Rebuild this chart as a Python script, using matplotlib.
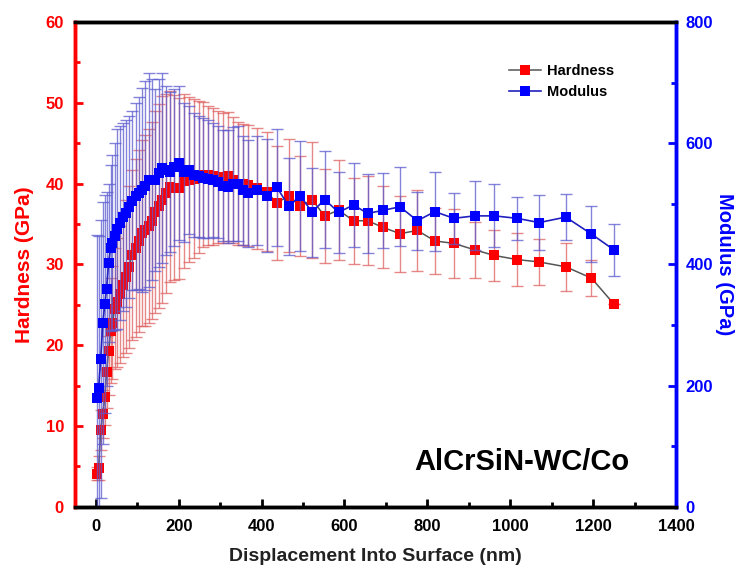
import matplotlib
matplotlib.use("Agg")
import matplotlib.pyplot as plt
from matplotlib.ticker import MultipleLocator
from matplotlib.lines import Line2D

plt.rcParams["font.family"] = ["Liberation Sans", "DejaVu Sans"]
plt.rcParams["font.weight"] = "bold"

# displacement (nm)
depth = [4, 7, 12, 17, 22, 26, 31, 36, 40, 46, 52, 58, 65, 72, 80, 88, 96, 104, 112, 120,
         128, 136, 144, 152, 160, 170, 180, 190, 200, 212, 224, 236, 248, 260, 272, 284,
         296, 308, 320, 332, 344, 356, 368, 388, 412, 437, 466, 494, 522, 552, 586, 622,
         656, 692, 734, 776, 818, 864, 914, 962, 1016, 1070, 1134, 1196, 1250]

hardness = [4.1, 4.8, 9.5, 11.5, 13.6, 16.7, 19.3, 21.8, 22.8, 24.5, 25.3, 26.3, 27.5, 28.5,
            29.7, 31.2, 32.0, 32.9, 33.9, 34.2, 34.8, 35.4, 36.5, 37.2, 38.0, 38.8, 39.6,
            39.5, 39.4, 40.3, 40.5, 40.6, 40.8, 41.1, 41.0, 40.9, 40.8, 40.7, 40.9, 40.4,
            40.0, 39.9, 39.8, 39.4, 39.0, 37.6, 38.5, 37.2, 38.0, 36.0, 36.7, 35.4, 35.4,
            34.6, 33.8, 34.2, 32.9, 32.6, 31.8, 31.1, 30.6, 30.3, 29.7, 28.3, 25.1]

hardness_err = [0.8, 1.5, 2.5, 3.0, 3.5, 4.5, 5.5, 6.5, 7.0, 7.5, 8.0, 8.5, 9.0, 9.5, 10.0,
                10.5, 11.0, 11.3, 11.5, 11.8, 12.0, 12.2, 12.5, 12.6, 12.8, 12.3, 11.8, 11.4,
                11.2, 10.8, 10.2, 9.8, 9.4, 9.0, 8.6, 8.5, 8.2, 8.0, 8.0, 7.8, 7.6, 7.5, 7.5,
                7.5, 7.4, 7.0, 7.0, 6.2, 7.2, 5.8, 6.2, 5.3, 5.5, 5.1, 4.7, 5.0, 4.1, 4.3,
                3.5, 3.1, 3.3, 2.8, 2.95, 2.2, 0.0]

modulus = [179, 196, 244, 303, 335, 359, 402, 427, 436, 446, 458, 468, 478, 484, 495, 505,
           512, 518, 523, 530, 539, 540, 539, 550, 559, 555, 553, 560, 567, 552, 556, 547,
           545, 542, 541, 539, 536, 530, 528, 532, 533, 522, 517, 522, 513, 527, 496, 513,
           486, 507, 486, 498, 484, 489, 495, 472, 487, 476, 480, 480, 476, 469, 478, 450,
           424]

modulus_err = [270, 250, 230, 200, 180, 160, 130, 137, 145, 155, 165, 160, 155, 154, 150,
               148, 155, 158, 168, 172, 176, 165, 150, 155, 157, 140, 132, 130, 127, 115,
               106, 102, 100, 99, 97, 94, 92, 92, 93, 94, 95, 90, 88, 90, 93, 96, 80, 91,
               73, 80, 67, 70, 65, 62, 65, 48, 65, 42, 57, 52, 35, 45, 38, 46, 43]

fig = plt.figure(figsize=(7.47, 5.76), dpi=100)
ax = fig.add_axes([0.1004, 0.12, 0.8046, 0.842])
ax2 = ax.twinx()

# hardness
ax.errorbar(depth, hardness, yerr=hardness_err, fmt="none", ecolor="#e06060",
            elinewidth=1.0, capsize=4.5, capthick=1.0, alpha=0.75, zorder=2)
ax.plot(depth, hardness, color="#555555", linewidth=1.1, zorder=3)
ax.plot(depth, hardness, "s", color="red", markersize=7, markeredgewidth=0, zorder=4)

# modulus
ax2.errorbar(depth, modulus, yerr=modulus_err, fmt="none", ecolor="#5a5ad0",
             elinewidth=1.0, capsize=4.5, capthick=1.0, alpha=0.75, zorder=2)
ax2.plot(depth, modulus, color="#2020c0", linewidth=1.2, zorder=3)
ax2.plot(depth, modulus, "s", color="blue", markersize=7, markeredgewidth=0, zorder=4)

ax.set_xlim(-50, 1400)
ax.set_ylim(0, 60)
ax2.set_ylim(0, 800)

ax.xaxis.set_major_locator(MultipleLocator(200))
ax.xaxis.set_minor_locator(MultipleLocator(100))
ax.yaxis.set_major_locator(MultipleLocator(10))
ax.yaxis.set_minor_locator(MultipleLocator(5))
ax2.yaxis.set_major_locator(MultipleLocator(200))
ax2.yaxis.set_minor_locator(MultipleLocator(100))

ax.tick_params(axis="x", direction="in", length=6, width=2, labelsize=12, pad=9,
               colors="black", top=False)
ax.tick_params(axis="x", which="minor", direction="in", length=3.5, width=2, top=False)
ax.tick_params(axis="y", direction="in", length=6, width=2, labelsize=12, pad=8,
               colors="red")
ax.tick_params(axis="y", which="minor", direction="in", length=3.5, width=2, colors="red")
ax2.tick_params(axis="y", direction="in", length=6, width=2, labelsize=12, pad=7,
                colors="blue")
ax2.tick_params(axis="y", which="minor", direction="in", length=3.5, width=2, colors="blue")

for a in (ax, ax2):
    for lab in a.get_xticklabels() + a.get_yticklabels():
        lab.set_fontweight("bold")
    for side in ("top", "bottom", "left", "right"):
        a.spines[side].set_linewidth(2.5)
    a.spines["left"].set_color("red")
    a.spines["right"].set_color("blue")

ax.set_xlabel("Displacement Into Surface (nm)", fontsize=14, fontweight="bold",
              color="#222222", labelpad=10)
ax.set_ylabel("Hardness (GPa)", fontsize=15, fontweight="bold", color="red", labelpad=8)
ax2.set_ylabel("Modulus (GPa)", fontsize=14.5, fontweight="bold", color="blue",
               rotation=270, labelpad=15)

ax.text(0.744, 0.093, "AlCrSiN-WC/Co", transform=ax.transAxes, fontsize=21,
        fontweight="bold", color="black", ha="center", va="center")

handles = [
    Line2D([], [], color="#555555", linewidth=1.1, marker="s", markersize=7,
           markerfacecolor="red", markeredgewidth=0),
    Line2D([], [], color="#2020c0", linewidth=1.2, marker="s", markersize=7,
           markerfacecolor="blue", markeredgewidth=0),
]
leg = ax2.legend(handles, ["Hardness", "Modulus"], loc="upper left",
                 bbox_to_anchor=(0.70, 0.94), frameon=False, fontsize=10.5,
                 handlelength=2.2, handletextpad=0.4, labelspacing=0.45)
for t in leg.get_texts():
    t.set_fontweight("bold")

fig.savefig("out.png", dpi=100)
